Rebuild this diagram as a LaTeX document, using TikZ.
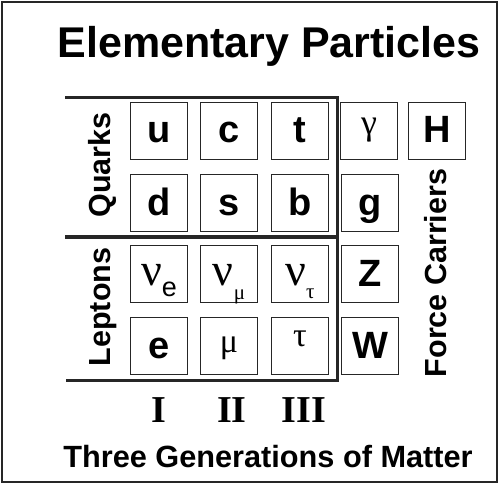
\documentclass[tikz,border=0pt]{standalone}
\usepackage{fontspec}
\setmainfont{Liberation Sans}
\newfontfamily\greekfont{Liberation Serif}
\usepackage{tikz}

\begin{document}
\begin{tikzpicture}[x=1pt, y=-1pt,
  particle/.style={draw=black!85, line width=1.3pt, minimum size=57pt, inner sep=0pt,
    text height=24pt, text depth=0pt, font=\fontsize{38}{38}\selectfont\bfseries},
  greek/.style={font=\greekfont\fontsize{34}{34}\selectfont},
  frameline/.style={draw=black!85, line width=3pt},
  family/.style={rotate=90, anchor=base, font=\fontsize{30.5}{30.5}\selectfont\bfseries}]
  \useasboundingbox (0,0) rectangle (500,486);
  % outer frame
  \draw[draw=black!85, line width=2.5pt] (2,2) rectangle (497,482);
  \node[anchor=base, font=\fontsize{43}{43}\selectfont\bfseries] (title) at (269,58) {Elementary Particles};
  % quarks and leptons
  \draw[frameline] (65,98) -- (337,98) -- (337,380) -- (66,380);
  \draw[frameline] (65,237) -- (337,237);
  \node[family] (quarks) at (110,165) {Quarks};
  \node[family] (leptons) at (110,307) {Leptons};
  \node[particle] (u) at (159,131) {u};
  \node[particle] (c) at (229,131) {c};
  \node[particle] (t) at (300,131) {t};
  \node[particle] (d) at (159,203) {d};
  \node[particle] (s) at (229,203) {s};
  \node[particle] (b) at (300,203) {b};
  \node[particle, greek, text height=22pt] (nue) at (159,274)
    {{\fontsize{46}{46}\selectfont ν}\raisebox{-11pt}{\normalfont\fontsize{27}{27}\selectfont e}};
  \node[particle, greek, text height=22pt] (numu) at (229,274)
    {{\fontsize{46}{46}\selectfont ν}\raisebox{-14pt}{\fontsize{21}{21}\selectfont μ}};
  \node[particle, greek, text height=22pt] (nutau) at (300,274)
    {{\fontsize{46}{46}\selectfont ν}\raisebox{-13pt}{\fontsize{21}{21}\selectfont τ}};
  \node[particle] (e) at (159,346) {e};
  \node[particle, greek, text height=12pt] (mu) at (229,346) {μ};
  \node[particle, greek, text height=0pt] (tau) at (300,346) {τ};
  % force carriers
  \node[particle, greek, font=\greekfont\fontsize{36}{36}\selectfont, text height=8pt] (gamma) at (369,131) {γ};
  \node[particle] (H) at (437,131) {H};
  \node[particle] (g) at (370,203) {g};
  \node[particle] (Z) at (370,274) {Z};
  \node[particle] (W) at (370,346) {W};
  \node[family] (carriers) at (446,273) {Force Carriers};
  % generations
  \node[anchor=base, font=\greekfont\fontsize{38}{38}\selectfont\bfseries] (genI) at (159,422) {I};
  \node[anchor=base, font=\greekfont\fontsize{38}{38}\selectfont\bfseries] (genII) at (232,422) {II};
  \node[anchor=base, font=\greekfont\fontsize{38}{38}\selectfont\bfseries] (genIII) at (304,422) {III};
  \node[anchor=base, font=\fontsize{30.7}{30.7}\selectfont\bfseries] (matter) at (268,467) {Three Generations of Matter};
\end{tikzpicture}
\end{document}
